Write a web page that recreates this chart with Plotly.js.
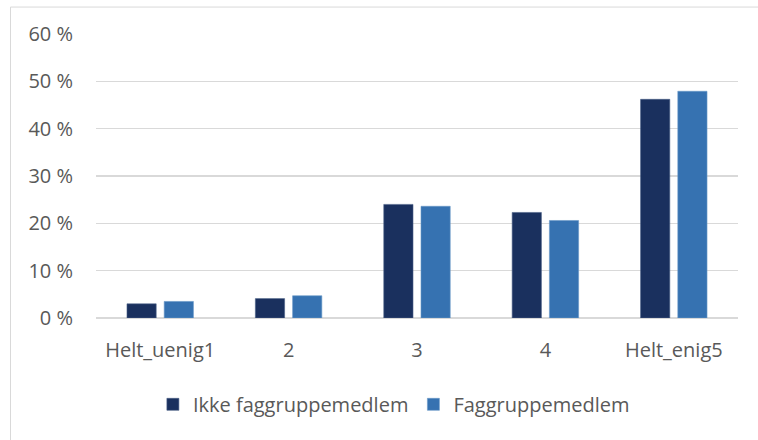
<!DOCTYPE html>
<html>
<head>
<meta charset="utf-8">
<script src="https://cdn.plot.ly/plotly-3.0.1.min.js"></script>
<style>html,body{margin:0;padding:0;background:#fff;}#chart{width:758px;height:440px;}</style>
</head>
<body>
<div id="chart"></div>
<script>
var categories = ["Helt_uenig1", "2", "3", "4", "Helt_enig5"];
var seriesNames = ["Ikke faggruppemedlem", "Faggruppemedlem"];
var ikkeFaggruppe = [0.030, 0.041, 0.240, 0.223, 0.462];
var faggruppe = [0.035, 0.047, 0.236, 0.206, 0.479];
var yTickVals = [0, 0.1, 0.2, 0.3, 0.4, 0.5, 0.6];
var yTickText = ["0 %", "10 %", "20 %", "30 %", "40 %", "50 %", "60 %"];

var FONT = "'Open Sans', Lato, sans-serif";
var traces = [
  {type: "bar", name: seriesNames[0], x: categories, y: ikkeFaggruppe,
   marker: {color: "#1a305e", line: {color: "#4a5f86", width: 0.6}}, hoverinfo: "none"},
  {type: "bar", name: seriesNames[1], x: categories, y: faggruppe,
   marker: {color: "#3672b1", line: {color: "#6a98c8", width: 0.6}}, hoverinfo: "none"}
];
var layout = {
  width: 758, height: 440,
  margin: {l: 96, r: 20, t: 34, b: 121.5},
  paper_bgcolor: "#ffffff", plot_bgcolor: "#ffffff",
  barmode: "group", bargap: 0.42, bargroupgap: 0.215,
  font: {family: FONT, color: "#595959", size: 20},
  xaxis: {type: "category", showgrid: false, showline: false, zeroline: false,
          ticks: "", ticklabelstandoff: 18, tickfont: {family: FONT, size: 20, color: "#595959"}},
  yaxis: {range: [0, 0.6], tickvals: yTickVals, ticktext: yTickText, showgrid: true,
          gridcolor: "#d9d9d9", gridwidth: 1.5, zeroline: true, zerolinecolor: "#d9d9d9",
          zerolinewidth: 1.5, showline: false, ticks: "", ticklabelstandoff: 22,
          tickfont: {family: FONT, size: 20, color: "#595959"}},
  showlegend: true,
  legend: {orientation: "h", x: 0.464, xanchor: "center", y: -0.304, yanchor: "middle",
           font: {family: FONT, size: 20, color: "#595959"}, itemwidth: 30, traceorder: "normal"},
  shapes: [{type: "rect", xref: "paper", yref: "paper", x0: -0.1332, x1: 1.2, y0: -0.6, y1: 1.0949,
            line: {color: "#d9d9d9", width: 1}, fillcolor: "rgba(0,0,0,0)", layer: "below"}]
};
Plotly.newPlot("chart", traces, layout, {staticPlot: true, displayModeBar: false});
</script>
</body>
</html>
